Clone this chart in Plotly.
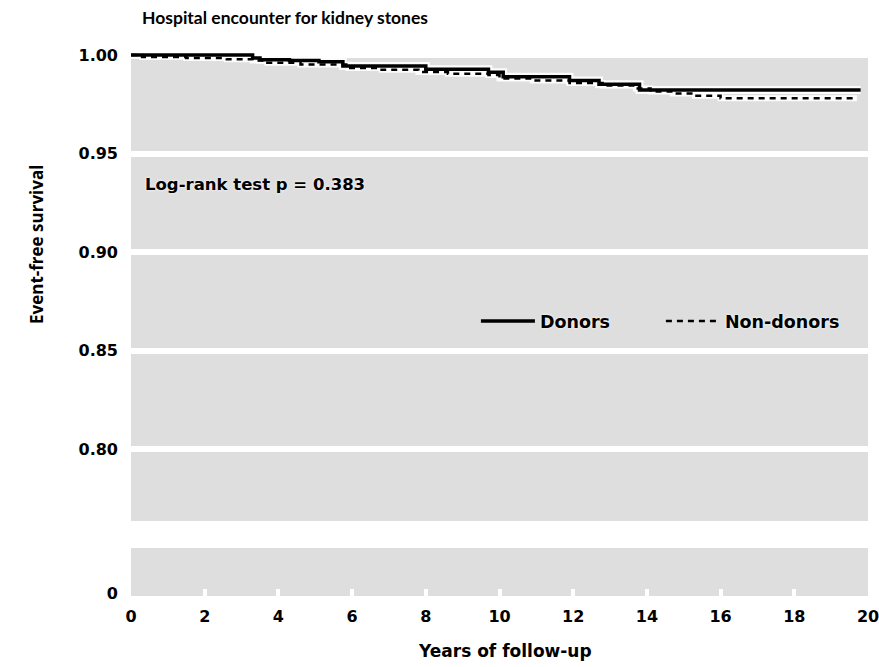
import plotly.graph_objects as go

# ---- data ----
donor_years = [0, 3.3, 3.5, 4.3, 5.1, 5.75, 8.0, 9.7, 10.1, 11.9, 12.7, 13.8, 19.8]
donor_surv = [1.000, 0.9985, 0.9976, 0.9972, 0.9966, 0.9944, 0.9927, 0.9912, 0.9890,
              0.9870, 0.9851, 0.9822, 0.9822]

nondonor_years = [0, 0.3, 1.5, 2.6, 3.3, 3.7, 4.6, 5.9, 6.8, 7.8, 8.6, 9.7, 10.0, 10.9,
                  11.9, 12.8, 13.7, 14.1, 14.7, 15.3, 16.0, 19.7]
nondonor_surv = [1.000, 0.9990, 0.9984, 0.9978, 0.9972, 0.9961, 0.9952, 0.9934, 0.9925,
                 0.9914, 0.9905, 0.9898, 0.9880, 0.9870, 0.9858, 0.9845, 0.9830, 0.9815,
                 0.9805, 0.9793, 0.9780, 0.9780]

y_ticks_top = [0.80, 0.85, 0.90, 0.95, 1.00]
y_ticklabels_top = ["0.80", "0.85", "0.90", "0.95", "1.00"]
y_ticks_bottom = [0]
y_ticklabels_bottom = ["0"]
x_ticks = list(range(0, 21, 2))

title_text = "Hospital encounter for kidney stones"
pvalue_text = "Log-rank test p = 0.383"
x_title = "Years of follow-up"
y_title = "Event-free survival"

WIDE = "DejaVu Sans"
GRAY = "#dedede"

fig = go.Figure()

# white halos beneath the curves
fig.add_trace(go.Scatter(x=nondonor_years, y=nondonor_surv, mode="lines", line_shape="hv",
                         line=dict(color="rgba(255,255,255,0.9)", width=6),
                         showlegend=False, hoverinfo="skip", xaxis="x", yaxis="y"))
fig.add_trace(go.Scatter(x=donor_years, y=donor_surv, mode="lines", line_shape="hv",
                         line=dict(color="rgba(255,255,255,0.9)", width=8),
                         showlegend=False, hoverinfo="skip", xaxis="x", yaxis="y"))

fig.add_trace(go.Scatter(x=donor_years, y=donor_surv, mode="lines", line_shape="hv",
                         name="Donors", line=dict(color="black", width=3.5),
                         xaxis="x", yaxis="y"))
fig.add_trace(go.Scatter(x=nondonor_years, y=nondonor_surv, mode="lines", line_shape="hv",
                         name="Non-donors", line=dict(color="black", width=2.5, dash="6px,5px"),
                         xaxis="x", yaxis="y"))

# empty trace so that the lower (broken-axis) panel is created
fig.add_trace(go.Scatter(x=[None], y=[None], mode="lines", showlegend=False,
                         hoverinfo="skip", xaxis="x2", yaxis="y2"))

tick_font = dict(family=WIDE, size=16, color="black", weight="bold")

fig.update_layout(
    width=879, height=667,
    margin=dict(l=131, r=11, t=53, b=71, autoexpand=False),
    paper_bgcolor="white", plot_bgcolor=GRAY,
    font=dict(family=WIDE, color="black"),
    xaxis=dict(domain=[0, 1], anchor="y", range=[0, 20],
               showticklabels=False, ticks="", showgrid=False, zeroline=False, showline=False),
    yaxis=dict(domain=[0.1381, 1], anchor="x", range=[0.7635, 1.001],
               tickvals=y_ticks_top, ticktext=y_ticklabels_top, tickfont=tick_font,
               showgrid=True, gridcolor="white", gridwidth=6, zeroline=False, showline=False,
               ticks="", ticklabelstandoff=12),
    xaxis2=dict(domain=[0, 1], anchor="y2", range=[0, 20], tickvals=x_ticks,
                tickfont=tick_font, ticks="inside", tickcolor="white", tickwidth=4, ticklen=7,
                showgrid=False, zeroline=False, showline=False, ticklabelstandoff=9,
                ticklabeloverflow="allow"),
    yaxis2=dict(domain=[0, 0.0884], anchor="x2", range=[-0.06, 1], tickvals=y_ticks_bottom,
                ticktext=y_ticklabels_bottom, tickfont=tick_font, showgrid=False,
                zeroline=False, showline=False, ticks="", ticklabelstandoff=12),
    legend=dict(orientation="h", x=0.468, y=0.5064, xanchor="left", yanchor="middle",
                bgcolor="rgba(0,0,0,0)", itemwidth=54, entrywidth=116,
                entrywidthmode="pixels",
                font=dict(family=WIDE, size=17.5, color="black", weight="bold",
                          shadow="0px 0px 3px white")),
    showlegend=True,
)

fig.add_annotation(text=title_text, xref="paper", yref="paper", x=0.0122, y=1.0645,
                   xanchor="left", yanchor="middle", showarrow=False,
                   font=dict(family="Lato", size=17.5, weight="bold", color="black"))
fig.add_annotation(text=pvalue_text, xref="paper", yref="paper", x=0.0163, y=0.7587,
                   xanchor="left", yanchor="middle", showarrow=False,
                   font=dict(family=WIDE, size=16.5, weight="bold", color="black",
                             shadow="0px 0px 3px white"))
fig.add_annotation(text=x_title, xref="paper", yref="paper", x=0.5075, y=-0.1013,
                   xanchor="center", yanchor="middle", showarrow=False,
                   font=dict(family=WIDE, size=17, weight="bold", color="black"))
fig.add_annotation(text=y_title, xref="paper", yref="paper", x=-0.1289, y=0.6464,
                   xanchor="center", yanchor="middle", showarrow=False, textangle=-90,
                   font=dict(family="Open Sans", size=17, weight="bold", color="black"))

fig.write_html("out.html", post_script="document.body.style.margin='0';",
               config={"displayModeBar": False})
